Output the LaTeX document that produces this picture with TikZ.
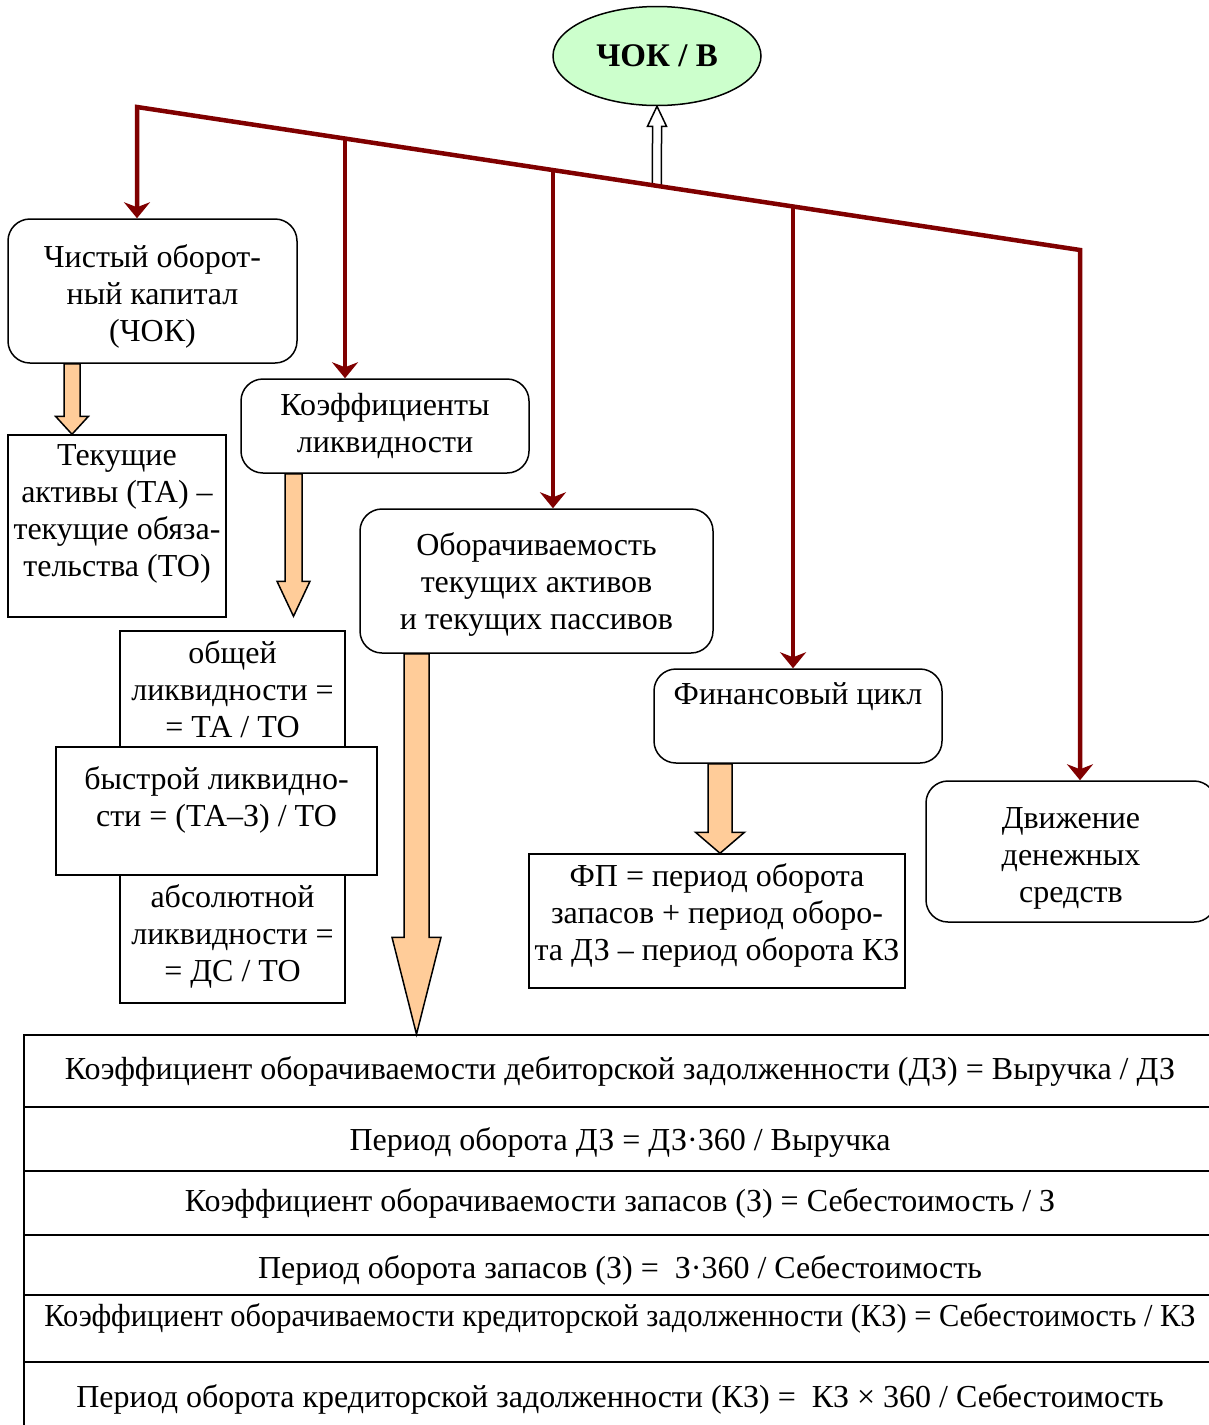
\documentclass[tikz,border=0pt]{standalone}
\usepackage{fontspec}
\usepackage{graphicx}
\setmainfont{Liberation Serif}
\usetikzlibrary{arrows.meta, calc, shapes.geometric}

\definecolor{darkred}{RGB}{128,0,0}
\definecolor{peach}{RGB}{255,204,153}
\definecolor{mint}{RGB}{204,255,204}

% block arrow: from, to, half shaft, half head, head length, fill
\newcommand{\fatarrow}[6]{%
  \draw[line width=1.5pt, fill=#6, line join=miter]
    ($(#1)+(-#3,0)$) -- ($(#2)+(-#3,{0-(#5)})$) -- ($(#2)+(-#4,{0-(#5)})$) -- (#2)
    -- ($(#2)+(#4,{0-(#5)})$) -- ($(#2)+(#3,{0-(#5)})$) -- ($(#1)+(#3,0)$) -- cycle;}

\begin{document}
\begin{tikzpicture}[x=1pt, y=-1pt,
    font=\fontsize{32}{37}\selectfont,
    box/.style={draw, line width=1.5pt, rounded corners=22pt, inner sep=0pt, align=center},
    sqbox/.style={draw, line width=1.5pt, inner sep=0pt, align=center},
    row/.style={draw, line width=1.5pt, inner sep=0pt, align=center, minimum width=1192pt},
    redline/.style={darkred, line width=4.5pt, line join=miter},
    redtip/.style={-{Stealth[length=16pt, width=26pt, inset=5pt]}}]

\useasboundingbox (0,0) rectangle (1209,1425);

% top
\node[ellipse, draw, line width=1.5pt, fill=mint, inner sep=0pt, minimum width=208pt, minimum height=99pt,
      font=\fontsize{33}{38}\selectfont\bfseries] (chokv) at (657,56) {ЧОК / В};

% boxes
\node[box, minimum width=289pt, minimum height=144pt] (chok) at (152.5,291) {\mbox{}\\[-4pt]Чистый оборот-\\ный капитал\\(ЧОК)};
\node[box, minimum width=288pt, minimum height=94pt] (koef) at (385,426) {Коэффициенты\\ликвидности};
\node[box, minimum width=353pt, minimum height=144pt] (obor) at (536.5,581) {\mbox{}\\[-7pt]Оборачиваемость\\текущих активов\\и текущих пассивов};
\node[box, minimum width=288pt, minimum height=94pt] (fin) at (798,716) {Финансовый цикл\\[8pt]\mbox{}};
\node[box, minimum width=290pt, minimum height=141pt] (dvizh) at (1071,851.5) {\mbox{}\\[-2pt]Движение\\денежных\\средств};

\node[sqbox, minimum width=218pt, minimum height=182pt] (tek) at (117,526) {Текущие\\активы (ТА) –\\текущие обяза-\\тельства (ТО)\\[-7pt]\mbox{}};
\node[sqbox, minimum width=225pt, minimum height=116pt] (obsh) at (232.5,689) {общей\\ликвидности =\\= ТА / ТО};
\node[sqbox, minimum width=321pt, minimum height=128pt] (bystr) at (216.5,811) {быстрой ликвидно-\\сти = (ТА–З) / ТО\\[-8pt]\mbox{}};
\node[sqbox, minimum width=225pt, minimum height=128pt] (absl) at (232.5,939) {абсолютной\\ликвидности =\\= ДС / ТО\\[-26pt]\mbox{}};
\node[sqbox, minimum width=376pt, minimum height=134pt] (fp) at (717,921) {ФП = период оборота\\запасов + период оборо-\\та ДЗ – период оборота КЗ\\[-19pt]\mbox{}};

% table
\node[row, minimum height=72pt] (r1) at (620,1071) {Коэффициент оборачиваемости дебиторской задолженности (ДЗ) = Выручка / ДЗ\\[-31pt]\mbox{}};
\node[row, minimum height=64pt] (r2) at (620,1139) {\mbox{}\\[-8pt]Период оборота ДЗ = ДЗ·360 / Выручка};
\node[row, minimum height=64pt] (r3) at (620,1203) {Коэффициент оборачиваемости запасов (З) = Себестоимость / З};
\node[row, minimum height=60pt] (r4) at (620,1265) {\mbox{}\\[-4pt]Период оборота запасов (З) = \ З·360 / Себестоимость};
\node[row, minimum height=67pt] (r5) at (620,1328.5) {\scalebox{0.951}[1]{Коэффициент оборачиваемости кредиторской задолженности (КЗ) = Себестоимость / КЗ}\\[-11pt]\mbox{}};
\node[row, minimum height=78pt] (r6) at (620,1401) {Период оборота кредиторской задолженности (КЗ) = \ КЗ × 360 / Себестоимость\\[-27pt]\mbox{}};

% block arrows
\coordinate (a1) at ([xshift=-80.5pt]chok.south);
\coordinate (a1e) at (a1 |- tek.north);
\fatarrow{a1}{a1e}{8}{16.5}{18}{peach}
\coordinate (a2) at ([xshift=-91.5pt]koef.south);
\coordinate (a2e) at ($(a2 |- obsh.north)+(0,-14)$);
\fatarrow{a2}{a2e}{8.5}{16.5}{35}{peach}
\coordinate (a3) at ([xshift=-120pt]obor.south);
\coordinate (a3e) at (a3 |- r1.north);
\fatarrow{a3}{a3e}{12.5}{24.5}{97}{peach}
\coordinate (a4) at ([xshift=-78pt]fin.south);
\coordinate (a4e) at (a4 |- fp.north);
\fatarrow{a4}{a4e}{12}{24.5}{21}{peach}

% red connectors
\coordinate (tl) at (137,107);
\coordinate (tr) at (1080,250);
\coordinate (b0) at ($(tl)!0.5514!(tr)$);
\fatarrow{b0}{chokv.south}{4.5}{9.5}{-20}{white}
\draw[redline, {Stealth[length=16pt, width=26pt, inset=5pt]}-{Stealth[length=16pt, width=26pt, inset=5pt]}]
  (tl |- chok.north) -- (tl) -- (tr) -- (tr |- dvizh.north);
\coordinate (b1) at ($(tl)!0.2206!(tr)$);
\coordinate (b2) at ($(tl)!0.4411!(tr)$);
\coordinate (b3) at ($(tl)!0.6957!(tr)$);
\draw[redline, redtip] (b1) -- (b1 |- koef.north);
\draw[redline, redtip] (b2) -- (b2 |- obor.north);
\draw[redline, redtip] (b3) -- (b3 |- fin.north);

\end{tikzpicture}
\end{document}
